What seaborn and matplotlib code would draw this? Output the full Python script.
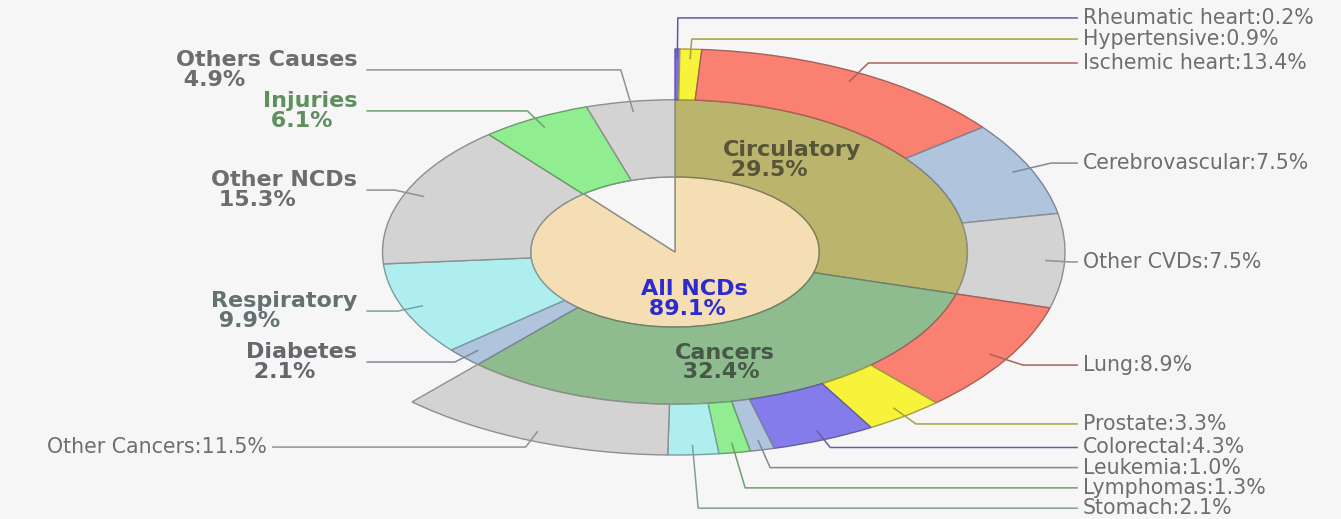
import numpy as np
import matplotlib
matplotlib.use("Agg")
import matplotlib.pyplot as plt
import matplotlib.colors as mcolors
import seaborn as sns

# Inner disc: share of deaths due to non-communicable diseases
ncd_label = "All NCDs"
ncd_value = 89.1

# Middle ring: broad causes of death (% of all deaths)
group_names = ["Circulatory", "Cancers", "Diabetes", "Respiratory",
               "Other NCDs", "Injuries", "Others Causes"]
group_values = [29.5, 32.4, 2.1, 9.9, 15.3, 6.1, 4.9]

# Outer ring: breakdown of circulatory diseases and cancers
detail_names = ["Rheumatic heart", "Hypertensive", "Ischemic heart",
                "Cerebrovascular", "Other CVDs", "Lung", "Prostate",
                "Colorectal", "Leukemia", "Lymphomas", "Stomach",
                "Other Cancers"]
detail_values = [0.2, 0.9, 13.4, 7.5, 7.5, 8.9, 3.3, 4.3, 1.0, 1.3, 2.1, 11.5]

# ---- styling -------------------------------------------------------------
BG = "#f6f6f6"
group_colors = ["#bbb46c", "#8fbc8f", "#b0c4de", "#afeeee",
                "#d3d3d3", "#90ee90", "#d3d3d3"]
detail_colors = ["#7b6fee", "#f7f23a", "#fa8072", "#b0c4de", "#d3d3d3",
                 "#fa8072", "#f7f23a", "#857cec", "#b0c4de", "#90ee90",
                 "#afeeee", "#d3d3d3"]
ncd_color = "#f5deb3"
side_text_colors = {"Diabetes": "#66676d", "Respiratory": "#647171",
                    "Other NCDs": "#6d6d6d", "Injuries": "#5f8f5f",
                    "Others Causes": "#6d6d6d"}

# label layout (data units; outer radius = 1)
detail_label_y = [1.153, 1.049, 0.931, 0.438, -0.049, -0.557, -0.847,
                  -0.963, -1.062, -1.162, -1.262, -0.961]
side_label_y = {"Diabetes": -0.542, "Respiratory": -0.291,
                "Other NCDs": 0.305, "Injuries": 0.695,
                "Others Causes": 0.897}
inner_label_pos = {"Circulatory": (0.123, 0.453), "Cancers": (0.0, -0.544)}


def mix(color, other, t):
    a = np.array(mcolors.to_rgb(color))
    b = np.array(mcolors.to_rgb(other))
    return tuple(a * (1 - t) + b * t)


def edge_of(color):
    return mix(color, "#3a3a3a", 0.45)


sns.set_theme(style="white", rc={"axes.facecolor": BG, "figure.facecolor": BG})
plt.rcParams["font.family"] = ["DejaVu Sans"]

fig = plt.figure(figsize=(13.41, 5.19), dpi=100)
ax = fig.add_axes([0, 0, 1, 1])

R_OUT, R_MID, R_IN = 1.0, 0.75, 0.37
total = sum(group_values)

# inner disc
inner, _ = ax.pie([ncd_value, 100 - ncd_value], radius=R_IN, startangle=90,
                  counterclock=False, colors=[ncd_color, BG],
                  wedgeprops=dict(linewidth=1.0))

# middle ring
mid_wedges, _ = ax.pie(group_values, radius=R_MID, startangle=90,
                       counterclock=False, colors=group_colors,
                       wedgeprops=dict(width=R_MID - R_IN, linewidth=1.0))

# outer ring (the remaining share is left empty)
filler = total - sum(detail_values)
out_wedges, _ = ax.pie(detail_values + [filler], radius=R_OUT, startangle=90,
                       counterclock=False, colors=detail_colors + [BG],
                       wedgeprops=dict(width=R_OUT - R_MID, linewidth=1.0))
out_wedges[-1].set_visible(False)

for w in list(inner) + list(mid_wedges) + list(out_wedges):
    w.set_edgecolor(edge_of(w.get_facecolor()))
inner[1].set_edgecolor("#8c8c8c")

ax.set_aspect("auto")
ax.set_xlim(-675 / 390, (1341 - 675) / 390)
ax.set_ylim(-267 / 203, 252 / 203)
ax.axis("off")

RIGHT_X, LEFT_X = 1.033, -1.033
TXT_GAP = 0.013


def elbow(ang, r0, ly, x_limit):
    """Point on the radial through ang (from radius r0) that reaches height ly."""
    s = np.sin(ang)
    r = ly / s if abs(s) > 1e-3 else r0
    r = max(r, r0)
    x = r * np.cos(ang)
    if abs(x) > abs(x_limit) - 0.02:
        x = np.sign(x) * (abs(x_limit) - 0.02)
    return x, ly


# outer ring labels with elbow leader lines
for w, name, val, col, ly in zip(out_wedges, detail_names, detail_values,
                                 detail_colors, detail_label_y):
    ang = np.deg2rad((w.theta1 + w.theta2) / 2)
    px, py = 0.95 * np.cos(ang), 0.95 * np.sin(ang)
    side = 1 if np.cos(ang) > -0.2 else -1
    end_x = RIGHT_X if side > 0 else LEFT_X
    ex, ey = elbow(ang, 0.95, ly, end_x)
    ax.plot([px, ex, end_x], [py, ey, ly], color=mix(col, "#404040", 0.45),
            lw=1.1, solid_capstyle="butt", zorder=5)
    ax.text(end_x + side * TXT_GAP, ly, f"{name}:{val}%",
            ha="left" if side > 0 else "right", va="center",
            fontsize=14.8, color="#6e6e6e")

# middle ring labels: small slices on the left, large ones inside
for w, name, val, col in zip(mid_wedges, group_names, group_values, group_colors):
    if name in side_label_y:
        ly = side_label_y[name]
        ang = np.deg2rad((w.theta1 + w.theta2) / 2)
        px, py = 0.7 * np.cos(ang), 0.7 * np.sin(ang)
        ex, ey = elbow(ang, 0.7, ly, -0.79)
        ax.plot([px, ex, -0.79], [py, ey, ly], color=mix(col, "#404040", 0.45),
                lw=1.1, zorder=5)
        ax.text(-0.815, ly, f"{name}\n {val}%", ha="right", va="center",
                multialignment="left", fontsize=16, fontweight="bold",
                linespacing=0.95, color=side_text_colors[name])
    elif name in inner_label_pos:
        x, y = inner_label_pos[name]
        ax.text(x, y, f"{name}\n {val}%", ha="left", va="center",
                multialignment="left", fontsize=16, fontweight="bold",
                linespacing=0.95, color=mix(col, "#1a1a1a", 0.62))

ax.text(-0.087, -0.232, f"{ncd_label}\n {ncd_value}%", ha="left", va="center",
        multialignment="left", fontsize=16, fontweight="bold", linespacing=0.95,
        color="#2b2bd0")

fig.savefig("out.png", dpi=100, facecolor=BG)
